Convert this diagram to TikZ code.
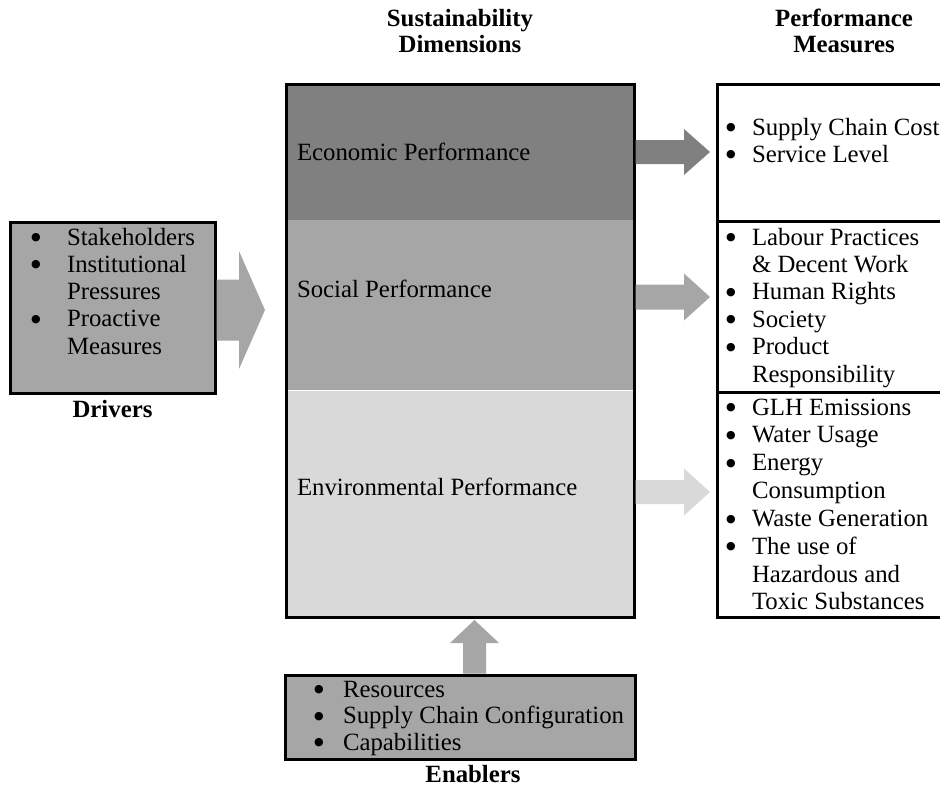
\documentclass[tikz,border=0pt]{standalone}
\usepackage{fontspec}
\setmainfont{Liberation Serif}
\newfontfamily\symfont{DejaVu Sans}
\usetikzlibrary{calc}

\definecolor{tone1}{HTML}{808080}
\definecolor{tone2}{HTML}{A6A6A6}
\definecolor{tone3}{HTML}{D9D9D9}

% horizontal block arrow: start, tip, shaft half-width, head half-width, head length, colour
\newcommand\harrow[6]{%
  \fill[#6] let \p1=#1, \p2=#2 in
    (\x1,\y1+#3) -- (\x2-#5,\y1+#3) -- (\x2-#5,\y1+#4) -- (\x2,\y1)
    -- (\x2-#5,\y1-#4) -- (\x2-#5,\y1-#3) -- (\x1,\y1-#3) -- cycle;}
% upward block arrow: start, tip, shaft half-width, head half-width, head length, colour
\newcommand\uarrow[6]{%
  \fill[#6] let \p1=#1, \p2=#2 in
    (\x1+#3,\y1) -- (\x1+#3,\y2-#5) -- (\x1+#4,\y2-#5) -- (\x1,\y2)
    -- (\x1-#4,\y2-#5) -- (\x1-#3,\y2-#5) -- (\x1-#3,\y1) -- cycle;}

\begin{document}
\begin{tikzpicture}[x=1pt,y=-1pt,
  every node/.style={inner sep=0pt, outer sep=0pt},
  panel/.style={anchor=north west},
  frame/.style={draw=black, line width=3pt},
  txt/.style={font=\fontsize{24.8}{27.5}\selectfont, anchor=base west},
  blt/.style={font=\symfont\fontsize{11}{12}\selectfont, anchor=base, yshift=4.4pt},
  head/.style={font=\fontsize{24.8}{27.5}\selectfont\bfseries, anchor=base}]

\useasboundingbox (0,0) rectangle (940,787);
\clip (0,0) rectangle (940,787);

% sustainability dimensions
\node[panel, fill=tone1, minimum width=348pt, minimum height=136pt] (econ) at (286,84) {};
\node[panel, fill=tone2, minimum width=348pt, minimum height=170pt] (soc) at (286,220) {};
\node[panel, fill=tone3, minimum width=348pt, minimum height=227pt] (env) at (286,390) {};
\draw[white, line width=1pt] (env.north west) -- (env.north east);
\node[panel, frame, minimum width=348pt, minimum height=533pt] (dims) at (286,84) {};

% performance measures
\node[panel, frame, minimum width=228pt, minimum height=137pt] (pm1) at (717,84) {};
\node[panel, frame, minimum width=228pt, minimum height=171pt] (pm2) at (717,221) {};
\node[panel, frame, minimum width=228pt, minimum height=225pt] (pm3) at (717,392) {};

% drivers and enablers
\node[panel, frame, fill=tone2, minimum width=205pt, minimum height=171pt] (drv) at (10,222) {};
\node[panel, frame, fill=tone2, minimum width=350pt, minimum height=84pt] (enab) at (285,675) {};

% arrows
\harrow{($(drv.east)+(1.5,2.5)$)}{($(drv.east -| dims.west)+(-21,2.5)$)}{30.5pt}{59pt}{26pt}{tone2}
\harrow{($(econ.east)+(1.5,0)$)}{($(econ.east -| pm1.west)+(-7,0)$)}{12pt}{23pt}{26pt}{tone1}
\harrow{($(soc.east)+(1.5,-8)$)}{($(soc.east -| pm2.west)+(-7,-8)$)}{12.5pt}{23.5pt}{26pt}{tone2}
\harrow{($(env.east)+(1.5,-11.5)$)}{($(env.east -| pm3.west)+(-7,-11.5)$)}{12pt}{23.5pt}{26pt}{tone3}
\uarrow{($(enab.north)+(14.5,-1.5)$)}{($(dims.south -| enab.north)+(14.5,3)$)}{11.5pt}{24.5pt}{23pt}{tone2}

% headings
\node[head] (h1a) at (460,27) {Sustainability};
\node[head] (h1b) at (460,52) {Dimensions};
\node[head] (h2a) at (844,27) {Performance};
\node[head] (h2b) at (844,52) {Measures};
\node[head] (hdrv) at (112.5,417) {Drivers};
\node[head] (henab) at (473,782) {Enablers};

% dimension labels
\node[txt] (leco) at (297,160) {Economic Performance};
\node[txt] (lsoc) at (297,297) {Social Performance};
\node[txt] (lenv) at (297,495) {Environmental Performance};

% driver list
\foreach \t [count=\i] in {Stakeholders, Institutional, Pressures, Proactive, Measures}
  \node[txt] (drvt\i) at (67,{245+(\i-1)*27.25}) {\t};
\foreach \i in {1,2,4}
  \node[blt] (drvb\i) at (36,{245+(\i-1)*27.25}) {●};

% economic measures
\foreach \t [count=\i] in {Supply Chain Cost, Service Level}
  \node[txt] (pmat\i) at (752,{135+(\i-1)*27}) {\t};
\foreach \i in {1,2}
  \node[blt] (pmab\i) at (731,{135+(\i-1)*27}) {●};

% social measures
\foreach \t [count=\i] in {Labour Practices, {\& Decent Work}, Human Rights, Society, Product, Responsibility}
  \node[txt] (pmbt\i) at (752,{245+(\i-1)*27.4}) {\t};
\foreach \i in {1,3,4,5}
  \node[blt] (pmbb\i) at (731,{245+(\i-1)*27.4}) {●};

% environmental measures
\foreach \t [count=\i] in {GLH Emissions, Water Usage, Energy, Consumption, Waste Generation, The use of, Hazardous and, Toxic Substances}
  \node[txt] (pmct\i) at (752,{415+(\i-1)*27.85}) {\t};
\foreach \i in {1,2,3,5,6}
  \node[blt] (pmcb\i) at (731,{415+(\i-1)*27.85}) {●};

% enabler list
\foreach \t [count=\i] in {Resources, Supply Chain Configuration, Capabilities}
  \node[txt] (enbt\i) at (343,{697+(\i-1)*26.5}) {\t};
\foreach \i in {1,2,3}
  \node[blt] (enbb\i) at (319,{697+(\i-1)*26.5}) {●};

\end{tikzpicture}
\end{document}
